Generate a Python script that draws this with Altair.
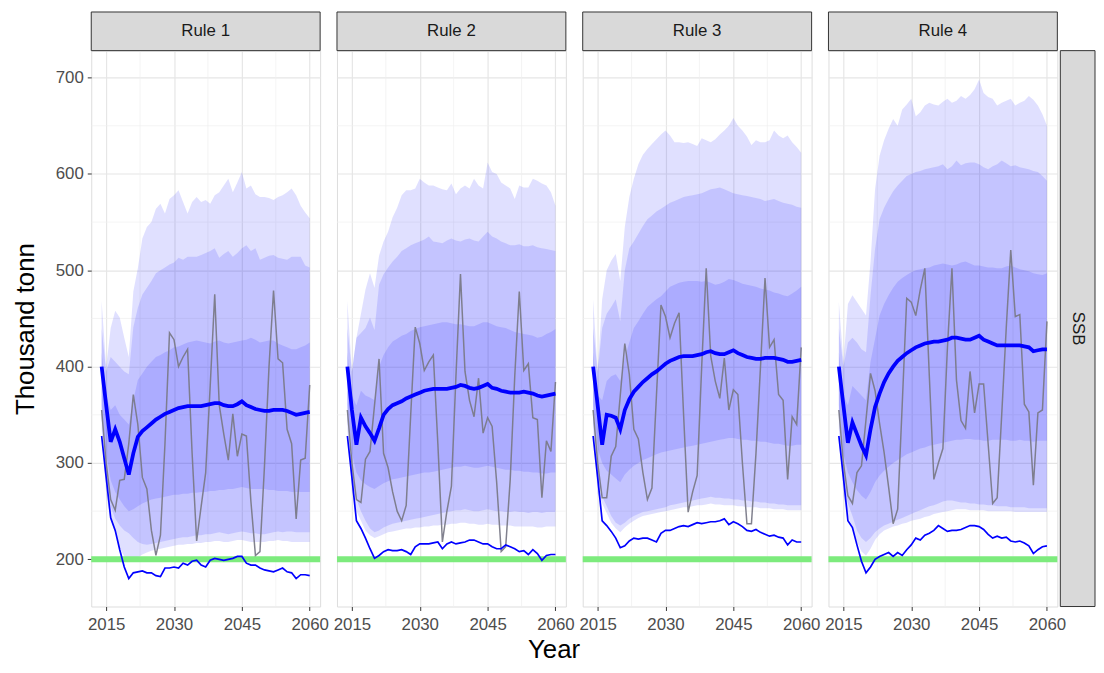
import altair as alt
import pandas as pd

# ---------------- data (thousand tonnes) ----------------
YEARS = list(range(2014, 2061))
RULES = ["Rule 1", "Rule 2", "Rule 3", "Rule 4"]
ROW_LABEL = ["SSB"]
LIMIT = [200]
Y_MAJOR = [200, 300, 400, 500, 600, 700]
Y_MINOR = [250, 350, 450, 550, 650]
X_MAJOR = [2015, 2030, 2045, 2060]
X_MINOR = [2022.5, 2037.5, 2052.5]

R1_MEDIAN = [400,360,322,335,322,305,288,310,327,333, 337,341,345,348,351,353,355,357,358,359,
             359,359,359,360,361,362,362,360,359,359, 361,364,360,358,356,355,354,354,355,355,
             355,354,352,350,351,352,353]
R1_SAMPLE = [355,300,262,251,282,283,320,371,340,285, 273,230,204,225,320,435,428,400,410,418,
             310,219,255,290,380,475,360,330,303,351, 307,330,328,260,204,208,297,400,479,408,
             404,335,320,242,303,305,381]
R1_LOW = [328,285,243,230,210,192,180,186,187,188, 186,186,183,182,191,191,192,191,196,194,
          198,199,194,192,199,201,200,199,200,201, 203,203,196,194,194,191,189,188,187,189,
          191,187,186,180,184,184,183]
R1_HI90 = [468,400,440,458,451,430,410,478,502,533, 545,550,564,569,559,574,578,583,571,559,
           571,576,571,573,569,578,581,588,595,581, 591,602,585,588,579,576,576,575,573,576,
           578,581,585,578,567,560,554]
R1_HI80 = [440,395,410,405,400,395,392,441,461,475, 482,489,497,500,503,506,508,513,511,514,
           514,514,516,518,520,523,513,517,520,514, 518,523,526,520,523,511,513,515,516,513,
           512,511,514,514,514,505,503]
R1_HI50 = [415,370,355,360,350,345,340,365,386,393, 400,405,410,412,415,417,420,421,423,425,
           426,427,426,425,424,426,427,425,424,425, 426,427,428,430,428,425,426,427,427,424,
           422,420,418,418,420,422,425]
R1_LO50 = [360,310,282,270,262,255,250,252,255,258, 260,262,263,264,265,266,267,267,268,268,
           269,269,270,270,271,271,272,272,273,273, 274,275,274,273,273,273,273,272,272,271,
           271,271,270,270,270,270,270]
R1_LO80 = [345,285,255,242,235,230,227,222,218,216, 215,216,217,218,219,220,221,222,223,223,
           224,225,225,226,226,227,228,227,226,227, 228,229,228,227,227,226,226,227,228,229,
           228,229,229,228,228,228,228]
R1_LO90 = [335,268,240,228,212,203,198,199,202,205, 207,209,210,211,212,213,214,215,215,216,
           216,217,217,218,218,219,219,218,218,219, 220,220,219,218,218,218,218,219,219,220,
           219,219,218,218,218,218,218]

R2_MEDIAN = [400,355,319,347,338,331,323,336,350,356, 360,362,364,367,369,371,373,375,376,377,
             377,377,377,378,379,381,380,378,377,378, 380,382,378,377,375,374,373,373,373,374,
             373,372,370,369,370,371,372]
R2_SAMPLE = [355,300,262,259,304,312,360,408,310,295, 270,250,240,256,350,441,424,396,405,412,
             320,218,250,276,390,496,395,365,348,388, 331,347,338,280,208,213,283,390,478,396,
             403,347,345,264,323,312,384]
R2_LOW = [328,285,240,232,222,211,201,204,208,210, 209,209,210,208,205,213,216,216,216,217,
          218,211,216,218,216,217,218,220,220,218, 216,216,213,211,211,215,213,211,208,209,
          205,210,206,199,204,205,205]
R2_HI90 = [468,395,430,455,480,497,482,515,530,540, 555,565,578,583,583,585,595,591,588,588,
           586,584,583,590,579,585,588,585,595,588, 585,612,602,600,591,588,585,574,588,586,
           586,595,593,590,588,581,567]
R2_HI80 = [440,395,430,435,440,451,438,485,496,503, 509,514,520,523,526,528,530,532,535,530,
           529,528,531,533,531,530,532,533,531,530, 535,540,535,533,530,528,526,526,527,525,
           525,526,524,523,522,521,520]
R2_HI50 = [415,370,360,375,370,368,365,400,412,420, 426,429,432,434,437,439,441,442,443,444,
           445,446,446,445,444,444,443,442,442,444, 446,446,444,442,441,440,438,436,435,434,
           433,432,430,431,434,436,439]
R2_LO50 = [360,310,290,282,278,275,273,276,279,281, 283,284,285,286,287,288,289,290,290,291,
           292,293,294,295,296,296,297,296,295,295, 296,297,296,295,294,293,293,292,292,291,
           291,290,290,289,289,290,290]
R2_LO80 = [345,285,262,250,240,232,228,230,233,235, 237,238,239,240,241,242,243,244,245,246,
           247,248,249,250,251,251,252,251,250,250, 251,252,251,250,250,249,249,250,249,249,
           248,249,249,248,249,249,249]
R2_LO90 = [335,270,250,240,230,225,222,224,226,228, 229,230,231,232,232,233,233,234,234,235,
           235,236,236,237,237,238,238,237,237,236, 236,237,236,236,235,235,235,234,234,234,
           234,234,233,233,234,234,234]

R3_MEDIAN = [400,360,319,350,349,347,335,355,366,374, 379,384,388,392,395,399,403,406,408,410,
             411,411,411,412,413,415,416,414,413,413, 415,417,414,412,410,409,408,408,409,409,
             409,408,407,405,405,406,407]
R3_SAMPLE = [355,300,264,264,307,317,370,424,392,335, 325,290,262,274,370,464,452,430,445,456,
             350,249,270,287,400,502,411,385,367,409, 355,376,371,300,237,237,310,400,492,420,
             428,371,365,283,348,340,420]
R3_LOW = [328,285,240,235,229,222,212,214,219,222, 221,222,222,220,218,227,230,230,232,234,
          235,234,236,238,237,238,239,239,240,242, 236,239,237,234,230,229,231,228,226,224,
          225,223,222,215,220,218,218]
R3_HI90 = [470,395,470,500,510,517,489,545,576,595, 610,620,626,631,636,641,645,640,633,633,
           632,633,631,629,637,635,633,636,641,645, 650,658,650,645,639,630,635,633,633,635,
           645,640,637,640,633,628,622]
R3_HI80 = [440,395,440,455,462,470,447,500,523,530, 538,546,553,557,561,564,567,570,572,574,
           576,577,578,579,580,582,584,585,586,584, 582,580,579,578,577,576,575,574,572,573,
           574,572,570,569,568,566,565]
R3_HI50 = [415,370,365,385,390,392,385,409,425,440, 447,455,462,466,470,473,478,483,485,487,
           488,489,489,489,488,489,487,485,486,488, 491,490,488,486,485,484,483,481,480,479,
           477,476,474,473,476,479,483]
R3_LO50 = [360,315,300,292,288,284,280,288,293,297, 300,303,305,307,309,311,312,313,314,315,
           316,317,318,319,320,321,322,323,324,325, 326,326,325,324,324,323,323,322,322,321,
           320,320,319,318,318,319,319]
R3_LO80 = [345,285,265,255,245,238,235,238,242,245, 247,249,250,251,252,253,254,256,257,258,
           259,260,261,262,263,264,265,264,264,263, 263,262,262,261,261,260,260,259,259,258,
           258,257,257,256,256,256,256]
R3_LO90 = [335,268,258,248,238,232,228,233,237,240, 243,245,246,247,248,249,250,251,252,253,
           254,254,255,256,256,257,258,257,257,256, 256,256,255,255,254,254,254,253,253,253,
           252,252,252,251,251,251,251]

R4_MEDIAN = [400,360,321,342,330,318,308,335,358,372, 384,393,400,406,410,414,417,420,422,424,
             425,426,426,427,428,430,430,429,428,428, 430,432,428,426,424,422,422,422,422,422,
             422,421,420,416,417,418,418]
R4_SAMPLE = [355,300,266,258,290,297,345,393,375,341, 311,275,237,252,360,471,467,453,480,502,
             390,283,300,315,420,502,386,344,336,395, 352,382,382,320,258,264,350,440,521,452,
             454,361,353,277,352,355,447]
R4_LOW = [328,285,240,233,215,198,186,192,200,203, 205,207,203,207,204,210,215,222,220,225,
          227,230,235,232,229,230,230,231,233,235, 235,234,231,226,222,224,222,223,219,218,
          219,217,214,206,210,213,214]
R4_HI90 = [467,405,465,474,467,460,453,509,584,619, 635,647,657,650,667,672,678,660,664,671,
           674,672,671,675,678,674,676,681,678,682, 688,698,684,680,678,671,674,676,678,671,
           674,676,681,677,671,662,650]
R4_HI80 = [440,400,425,430,425,418,415,474,522,553, 565,574,582,588,593,598,600,602,603,605,
           606,607,608,610,605,608,614,609,611,612, 612,610,607,605,608,610,614,611,608,609,
           607,606,605,603,602,598,593]
R4_HI50 = [415,370,360,380,375,370,365,405,429,453, 465,474,482,488,492,495,498,500,501,502,
           503,505,506,507,506,505,506,508,509,507, 505,505,504,503,503,502,502,504,505,503,
           501,500,499,497,496,495,497]
R4_LO50 = [360,310,290,280,272,266,262,270,280,287, 292,296,300,303,306,309,311,313,315,316,
           318,319,320,321,322,323,324,324,325,325, 324,324,323,323,324,324,324,324,323,323,
           324,323,323,322,323,323,323]
R4_LO80 = [345,280,258,245,230,222,218,222,228,232, 235,237,239,241,243,245,247,249,251,253,
           255,256,258,260,261,261,260,259,259,258, 258,257,257,256,256,255,255,255,254,254,
           254,254,253,253,253,253,253]
R4_LO90 = [335,266,245,232,218,208,204,211,220,226, 230,232,234,235,237,238,240,241,242,244,
           245,247,248,249,250,251,252,252,252,251, 251,251,251,250,250,250,250,250,250,249,
           249,249,249,249,249,249,249]

SERIES = [
    (R1_MEDIAN, R1_SAMPLE, R1_LOW, R1_HI90, R1_HI80, R1_HI50, R1_LO50, R1_LO80, R1_LO90),
    (R2_MEDIAN, R2_SAMPLE, R2_LOW, R2_HI90, R2_HI80, R2_HI50, R2_LO50, R2_LO80, R2_LO90),
    (R3_MEDIAN, R3_SAMPLE, R3_LOW, R3_HI90, R3_HI80, R3_HI50, R3_LO50, R3_LO80, R3_LO90),
    (R4_MEDIAN, R4_SAMPLE, R4_LOW, R4_HI90, R4_HI80, R4_HI50, R4_LO50, R4_LO80, R4_LO90),
]

# ---------------- styling ----------------
W, H = 231, 561
STRIP_H = 39
Y_DOMAIN = [151, 728]
X_DOMAIN = [2011.7, 2062.3]
FONT = "Liberation Sans"
GRID = "#E6E6E6"
MINOR = "#EFEFEF"
BAND = "#0000FF"
BAND_OP = 0.12
LABEL_FS = 17
TITLE_FS = 26


def panel(i, rule):
    med, smp, low, hi90, hi80, hi50, lo50, lo80, lo90 = SERIES[i]
    df = pd.DataFrame({"year": YEARS, "median": med, "sample": smp, "low": low,
                       "hi90": hi90, "hi80": hi80, "hi50": hi50,
                       "lo50": lo50, "lo80": lo80, "lo90": lo90})
    first = i == 0
    last = i == len(RULES) - 1

    xs = alt.Scale(domain=X_DOMAIN, nice=False, zero=False)
    ys = alt.Scale(domain=Y_DOMAIN, nice=False, zero=False)
    xaxis = alt.Axis(values=X_MAJOR, format="d", grid=True, gridColor=GRID, gridWidth=1.2,
                     domain=False, ticks=True, tickSize=4, tickColor="#333333", tickWidth=1,
                     labelColor="#4D4D4D", labelFontSize=LABEL_FS, labelPadding=6,
                     labelFlush=False, labelFont=FONT)
    if first:
        yaxis = alt.Axis(values=Y_MAJOR, grid=True, gridColor=GRID, gridWidth=1.2, domain=False,
                         ticks=True, tickSize=4, tickColor="#333333", tickWidth=1,
                         labelColor="#4D4D4D", labelFontSize=LABEL_FS, labelPadding=4,
                         labelFont=FONT, titleFontSize=TITLE_FS, titleFontWeight="normal",
                         titleColor="#000000", titleFont=FONT, titlePadding=17)
        ytitle = "Thousand tonn"
    else:
        yaxis = alt.Axis(values=Y_MAJOR, grid=True, gridColor=GRID, gridWidth=1.2, domain=False,
                         ticks=False, labels=False)
        ytitle = None

    def X(field):
        return alt.X(field, scale=xs, axis=xaxis, title=None)

    def Y(field):
        return alt.Y(field, scale=ys, axis=yaxis, title=ytitle)

    minor_y = alt.Chart(pd.DataFrame({"v": Y_MINOR})).mark_rule(
        color=MINOR, strokeWidth=0.7).encode(y=Y("v:Q"))
    minor_x = alt.Chart(pd.DataFrame({"v": X_MINOR})).mark_rule(
        color=MINOR, strokeWidth=0.7).encode(x=X("v:Q"))

    base = alt.Chart(df)
    a90 = base.mark_area(color=BAND, opacity=BAND_OP).encode(x=X("year:Q"), y=Y("lo90:Q"), y2="hi90:Q")
    a80 = base.mark_area(color=BAND, opacity=BAND_OP).encode(x=X("year:Q"), y=Y("lo80:Q"), y2="hi80:Q")
    a50 = base.mark_area(color=BAND, opacity=BAND_OP).encode(x=X("year:Q"), y=Y("lo50:Q"), y2="hi50:Q")

    limit = alt.Chart(pd.DataFrame({"limit": LIMIT})).mark_rule(
        color="#7DEB7D", strokeWidth=6).encode(y=Y("limit:Q"))

    sample = base.mark_line(color="#7A7A88", strokeWidth=1.5, opacity=0.95).encode(
        x=X("year:Q"), y=Y("sample:Q"))
    lowl = base.mark_line(color="#0000FF", strokeWidth=1.7).encode(x=X("year:Q"), y=Y("low:Q"))
    medl = base.mark_line(color="#0000FF", strokeWidth=3.8).encode(x=X("year:Q"), y=Y("median:Q"))

    lab = pd.DataFrame({"rule": [rule]})
    strip = alt.Chart(lab).mark_rect(fill="#D9D9D9", stroke="#333333", strokeWidth=1).encode(
        x=alt.value(0), x2=alt.value(W), y=alt.value(-STRIP_H), y2=alt.value(0))
    strip_txt = alt.Chart(lab).mark_text(fontSize=LABEL_FS, color="#1A1A1A", font=FONT).encode(
        x=alt.value(W / 2), y=alt.value(-STRIP_H / 2), text="rule:N")

    layers = [minor_y, minor_x, a90, a80, a50, limit, sample, lowl, medl, strip, strip_txt]

    if last:
        rl = pd.DataFrame({"row": ROW_LABEL})
        rstrip = alt.Chart(rl).mark_rect(fill="#D9D9D9", stroke="#333333", strokeWidth=1).encode(
            x=alt.value(W + 3), x2=alt.value(W + 38), y=alt.value(0), y2=alt.value(H))
        rtxt = alt.Chart(rl).mark_text(fontSize=LABEL_FS, color="#1A1A1A", font=FONT,
                                       angle=90).encode(
            x=alt.value(W + 20.5), y=alt.value(H / 2), text="row:N")
        layers += [rstrip, rtxt]

    return alt.layer(*layers).properties(width=W, height=H)


panels = [panel(i, r) for i, r in enumerate(RULES)]

chart = alt.hconcat(*panels, spacing=17, bounds="flush").properties(
    title=alt.TitleParams("Year", orient="bottom", anchor="middle", fontSize=TITLE_FS,
                          fontWeight="normal", color="#000000", font=FONT, offset=4),
    padding={"left": 4, "top": 0, "right": 0, "bottom": 0},
).configure_view(stroke="#333333", strokeWidth=1).configure(font=FONT, background="white")

chart.save("out.html", embed_options={"renderer": "svg", "actions": False})
